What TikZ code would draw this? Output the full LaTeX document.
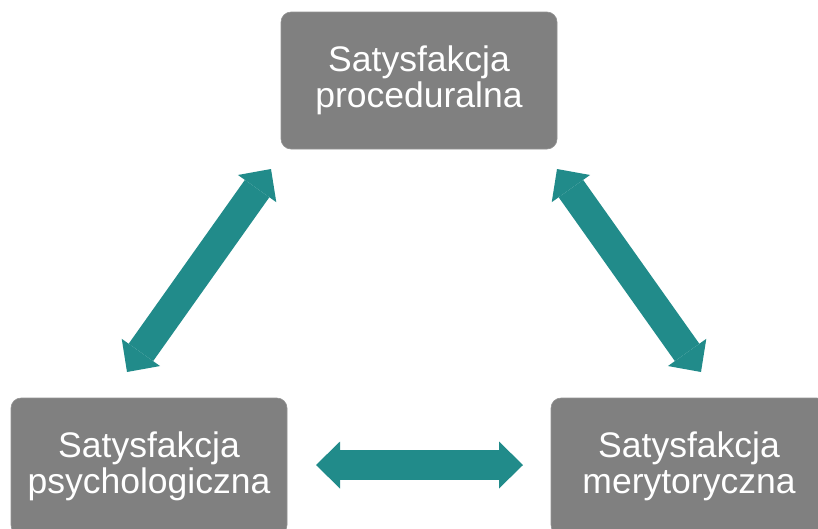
\documentclass[tikz,border=0pt]{standalone}
\usepackage{fontspec}
\setmainfont{Liberation Sans}
\usetikzlibrary{arrows.meta}
\definecolor{boxgray}{RGB}{128,128,128}
\definecolor{teal2}{RGB}{33,139,138}
\tikzset{
  satbox/.style={draw=boxgray!85!white, line width=0.6pt, fill=boxgray, rounded corners=10pt,
    minimum width=276pt, minimum height=137pt, inner sep=0pt,
    text=white, align=center, font=\fontsize{35.5}{36.6}\selectfont},
  dblarrow/.style={draw=teal2, line width=30pt,
    {Triangle[width=47pt,length=24pt,line width=0pt]}-{Triangle[width=47pt,length=24pt,line width=0pt]}}
}
\begin{document}
\begin{tikzpicture}[x=1pt,y=-1pt]
\clip (0,0) rectangle (818,528);
\node[satbox] (top) at (419,80.5) {Satysfakcja\\proceduralna};
\node[satbox] (left) at (149,466.5) {Satysfakcja\\psychologiczna};
\node[satbox] (right) at (689,466.5) {Satysfakcja\\merytoryczna};
\coordinate (l1) at (127,372);
\coordinate (l2) at (271,169);
\coordinate (r1) at (557,169);
\coordinate (r2) at (701,372);
\coordinate (h1) at (316,465);
\coordinate (h2) at (523,465);
\draw[dblarrow] (l1) -- (l2);
\draw[dblarrow] (r1) -- (r2);
\draw[dblarrow] (h1) -- (h2);
\end{tikzpicture}
\end{document}
